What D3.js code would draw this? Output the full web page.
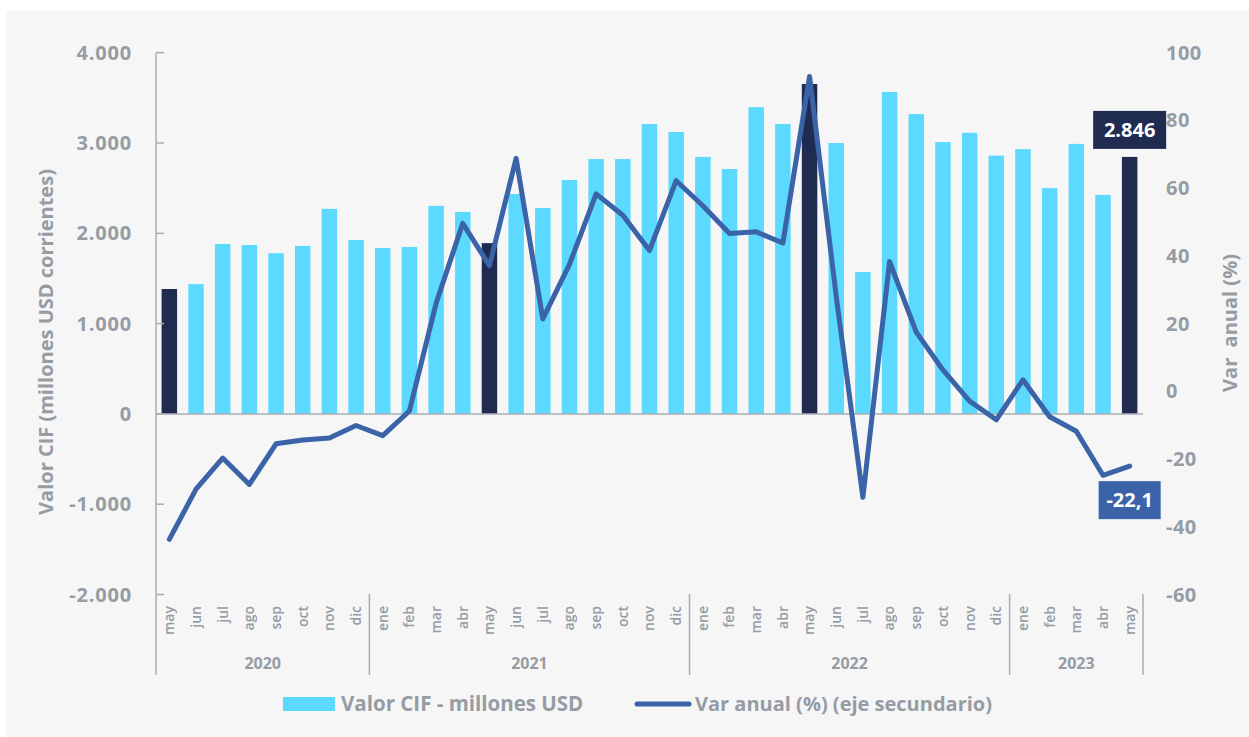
<!DOCTYPE html>
<html>
<head>
<meta charset="utf-8">
<script src="https://cdn.jsdelivr.net/npm/d3@7"></script>
<style>
  body { margin: 0; background: #ffffff; }
  svg { display: block; font-family: "Open Sans", "Lato", sans-serif; }
</style>
</head>
<body>
<svg id="chart" width="1249" height="737"></svg>
<script>
// months from may 2020 to may 2023
var months = ["may","jun","jul","ago","sep","oct","nov","dic",
  "ene","feb","mar","abr","may","jun","jul","ago","sep","oct","nov","dic",
  "ene","feb","mar","abr","may","jun","jul","ago","sep","oct","nov","dic",
  "ene","feb","mar","abr","may"];
var years = ["2020","2021","2022","2023"];
var yearSpan = [8, 12, 12, 5]; // months per year group

// Valor CIF - millones USD
var valorCIF = [1383, 1437, 1882, 1870, 1780, 1860, 2270, 1925,
  1837, 1848, 2304, 2236, 1891, 2435, 2280, 2590, 2822, 2822, 3210, 3122,
  2846, 2712, 3397, 3210, 3653, 3000, 1571, 3565, 3320, 3010, 3113, 2860,
  2932, 2500, 2990, 2425, 2846];

// Var anual (%) (eje secundario)
var varAnual = [-43.7, -28.9, -19.7, -27.5, -15.5, -14.4, -13.8, -10.1,
  -13.1, -5.8, 26.0, 49.6, 37.1, 68.8, 21.4, 37.5, 58.3, 52.0, 41.6, 62.2,
  54.8, 46.6, 47.1, 43.8, 93.0, 28.0, -31.3, 38.3, 17.5, 6.3, -2.9, -8.4,
  3.4, -7.5, -11.8, -24.8, -22.1];

var leftTicks = [-2000, -1000, 0, 1000, 2000, 3000, 4000];
var rightTicks = [-60, -40, -20, 0, 20, 40, 60, 80, 100];

var esLocale = d3.formatLocale({decimal: ",", thousands: ".", grouping: [3], currency: ["$", ""], minus: "-"});
var fmtInt = esLocale.format(",.0f");
var fmtDec = esLocale.format(",.1f");

var gray = "#959ca4";
var lightBar = "#5bd9fe";
var darkBar = "#202b52";
var lineCol = "#3a63a8";

var svg = d3.select("#chart");

// background panel
svg.append("rect")
  .attr("x", 6).attr("y", 10)
  .attr("width", 1243).attr("height", 727)
  .attr("fill", "#f6f6f6");

var idx = d3.range(months.length);
var x = d3.scaleBand().domain(idx).range([156, 1143]).paddingInner(0.42).paddingOuter(0.21);
var yL = d3.scaleLinear().domain([-2000, 4000]).range([594.5, 52.7]);
var yR = d3.scaleLinear().domain([-60, 100]).range([594.5, 52.7]);

// bars
svg.append("g").selectAll("rect")
  .data(idx).enter()
  .append("rect")
  .attr("x", function(i) { return x(i); })
  .attr("y", function(i) { return yL(valorCIF[i]); })
  .attr("width", x.bandwidth())
  .attr("height", function(i) { return yL(0) - yL(valorCIF[i]); })
  .attr("fill", function(i) { return months[i] === "may" ? darkBar : lightBar; });

// zero line
svg.append("line")
  .attr("x1", 156).attr("x2", 1143)
  .attr("y1", yL(0)).attr("y2", yL(0))
  .attr("stroke", "#a8adb3").attr("stroke-width", 1.5);

// left axis line + ticks
svg.append("line")
  .attr("x1", 156).attr("x2", 156)
  .attr("y1", yL(4000)).attr("y2", 675)
  .attr("stroke", "#a8adb3").attr("stroke-width", 1.5);

var lt = svg.append("g").selectAll("g").data(leftTicks).enter().append("g");
lt.append("line")
  .attr("x1", 156).attr("x2", 164)
  .attr("y1", function(d) { return yL(d); })
  .attr("y2", function(d) { return yL(d); })
  .attr("stroke", "#a8adb3").attr("stroke-width", 1.5);
lt.append("text")
  .attr("x", 132)
  .attr("y", function(d) { return yL(d); })
  .attr("dy", "0.35em")
  .attr("text-anchor", "end")
  .attr("font-size", 20).attr("font-weight", "bold")
  .attr("letter-spacing", 0.8)
  .attr("fill", gray)
  .text(function(d) { return fmtInt(d); });

// right axis labels
svg.append("g").selectAll("text").data(rightTicks).enter()
  .append("text")
  .attr("x", 1166)
  .attr("y", function(d) { return yR(d); })
  .attr("dy", "0.35em")
  .attr("font-size", 20).attr("font-weight", "bold")
  .attr("letter-spacing", 0.5)
  .attr("fill", gray)
  .text(function(d) { return d; });

// axis titles
svg.append("text")
  .attr("transform", "translate(53,342) rotate(-90)")
  .attr("text-anchor", "middle")
  .attr("font-size", 20).attr("font-weight", "bold")
  .attr("fill", gray)
  .text("Valor CIF (millones USD corrientes)");
svg.append("text")
  .attr("transform", "translate(1237,323) rotate(-90)")
  .attr("text-anchor", "middle")
  .attr("font-size", 20).attr("font-weight", "bold")
  .attr("fill", gray)
  .attr("xml:space", "preserve")
  .style("white-space", "pre")
  .text("Var  anual (%)");

// month labels
svg.append("g").selectAll("text").data(idx).enter()
  .append("text")
  .attr("transform", function(i) { return "translate(" + (x(i) + x.bandwidth() / 2) + ",606) rotate(-90)"; })
  .attr("dy", "0.35em")
  .attr("text-anchor", "end")
  .attr("font-size", 14).attr("font-weight", 600)
  .attr("fill", gray)
  .text(function(i) { return months[i]; });

// year separators and labels
var start = 0;
years.forEach(function(yr, k) {
  var x0 = k === 0 ? 156 : x.step() * start + 156;
  var x1 = x.step() * (start + yearSpan[k]) + 156;
  if (k > 0) {
    svg.append("line")
      .attr("x1", x0).attr("x2", x0).attr("y1", 594).attr("y2", 675)
      .attr("stroke", "#a8adb3").attr("stroke-width", 1.5);
  }
  if (k === years.length - 1) {
    svg.append("line")
      .attr("x1", x1).attr("x2", x1).attr("y1", 594).attr("y2", 675)
      .attr("stroke", "#a8adb3").attr("stroke-width", 1.5);
  }
  svg.append("text")
    .attr("x", (x0 + x1) / 2).attr("y", 663)
    .attr("dy", "0.35em")
    .attr("text-anchor", "middle")
    .attr("font-size", 16).attr("font-weight", "bold")
    .attr("fill", gray)
    .text(yr);
  start += yearSpan[k];
});

// line
var line = d3.line()
  .x(function(i) { return x(i) + x.bandwidth() / 2; })
  .y(function(i) { return yR(varAnual[i]); });
svg.append("path")
  .datum(idx)
  .attr("d", line)
  .attr("fill", "none")
  .attr("stroke", lineCol)
  .attr("stroke-width", 5)
  .attr("stroke-linejoin", "round")
  .attr("stroke-linecap", "round");

// end labels
var last = idx.length - 1;
var cx = x(last) + x.bandwidth() / 2;
svg.append("rect")
  .attr("x", cx - 36.5).attr("y", yL(valorCIF[last]) - 46)
  .attr("width", 73).attr("height", 38)
  .attr("fill", darkBar);
svg.append("text")
  .attr("x", cx).attr("y", yL(valorCIF[last]) - 27)
  .attr("dy", "0.35em")
  .attr("text-anchor", "middle")
  .attr("font-size", 20).attr("font-weight", "bold")
  .attr("fill", "#ffffff")
  .text(fmtInt(valorCIF[last]));

svg.append("rect")
  .attr("x", cx - 31).attr("y", yR(varAnual[last]) + 15)
  .attr("width", 62).attr("height", 38)
  .attr("fill", lineCol);
svg.append("text")
  .attr("x", cx).attr("y", yR(varAnual[last]) + 34)
  .attr("dy", "0.35em")
  .attr("text-anchor", "middle")
  .attr("font-size", 20).attr("font-weight", "bold")
  .attr("fill", "#ffffff")
  .text(fmtDec(varAnual[last]));

// legend
svg.append("rect")
  .attr("x", 283).attr("y", 697)
  .attr("width", 52).attr("height", 14)
  .attr("fill", lightBar);
svg.append("text")
  .attr("x", 341).attr("y", 704)
  .attr("dy", "0.35em")
  .attr("font-size", 20.5).attr("font-weight", "bold")
  .attr("fill", gray)
  .text("Valor CIF - millones USD");
svg.append("line")
  .attr("x1", 637).attr("x2", 689)
  .attr("y1", 704).attr("y2", 704)
  .attr("stroke", lineCol).attr("stroke-width", 5)
  .attr("stroke-linecap", "round");
svg.append("text")
  .attr("x", 695).attr("y", 704)
  .attr("dy", "0.35em")
  .attr("font-size", 20).attr("font-weight", "bold")
  .attr("fill", gray)
  .text("Var anual (%) (eje secundario)");
</script>
</body>
</html>
